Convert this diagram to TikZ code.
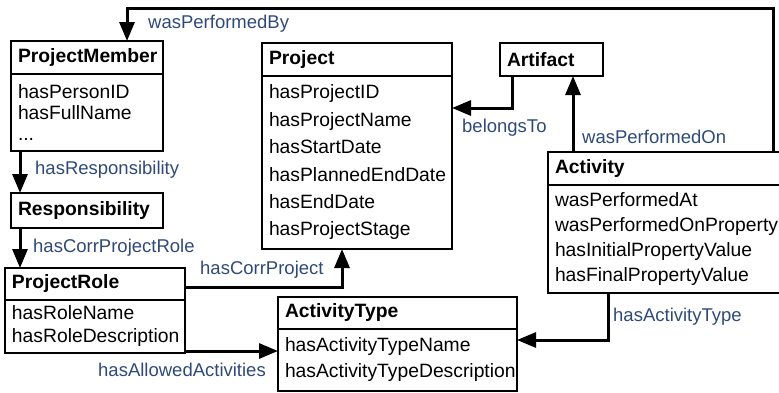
\documentclass[tikz,border=0pt]{standalone}
\usepackage{fontspec}
\setmainfont{Liberation Sans}
\usetikzlibrary{arrows.meta}
\definecolor{relblue}{HTML}{2F4A78}

\tikzset{
  head/.style={draw, line width=2pt, outer sep=0pt, anchor=north west,
    inner xsep=7pt, inner ysep=0pt, minimum height=33pt, text width=#1,
    align=left, font=\bfseries\fontsize{19.3}{23}\selectfont},
  attrs/.style={draw, line width=2pt, outer sep=0pt, anchor=north west,
    inner xsep=7pt, inner ysep=0pt, text width=#1,
    align=left, font=\fontsize{19.3}{25}\selectfont},
  rel/.style={anchor=west, inner sep=0pt, text=relblue,
    font=\fontsize{18.5}{22}\selectfont},
  link/.style={line width=3pt, -{Triangle[length=19pt,width=15pt]}},
}

\begin{document}
\begin{tikzpicture}[x=1pt, y=-1pt]
    \clip (0,0) rectangle (779,392);

    % classes
    \node[head=138pt] (pmhead) at (11,41) {ProjectMember};
    \node[attrs=138pt, minimum height=77pt] (pmbody) at (pmhead.south west)
        {hasPersonID\\[-4pt] hasFullName\\[-4pt] ...};

    \node[head=176pt] (projhead) at (262,43) {Project};
    \node[attrs=176pt, minimum height=173pt, font=\fontsize{19.3}{27.4}\selectfont] (projbody) at (projhead.south west)
        {hasProjectID\\ hasProjectName\\ hasStartDate\\ hasPlannedEndDate\\ hasEndDate\\ hasProjectStage};

    \node[head=89pt] (arthead) at (500,43) {Artifact};

    \node[head=228pt] (acthead) at (548,152) {Activity};
    \node[attrs=228pt, minimum height=108pt] (actbody) at (acthead.south west)
        {wasPerformedAt\\ wasPerformedOnProperty\\ hasInitialPropertyValue\\ hasFinalPropertyValue};

    \node[head=138pt, minimum height=35pt] (resp) at (11,193) {Responsibility};

    \node[head=166pt, minimum height=32pt] (prhead) at (5,268) {ProjectRole};
    \node[attrs=166pt, minimum height=53pt, font=\fontsize{19.3}{23}\selectfont] (prbody) at (prhead.south west)
        {hasRoleName\\ hasRoleDescription};

    \node[head=225pt, minimum height=32pt] (athead) at (278,297) {ActivityType};
    \node[attrs=225pt, minimum height=62pt, font=\fontsize{19.3}{26}\selectfont] (atbody) at (athead.south west)
        {hasActivityTypeName\\ hasActivityTypeDescription};

    % relations
    \coordinate (onfoot) at ([xshift=25pt]acthead.north west);
    \coordinate (allowfrom) at ([yshift=2pt]prbody.south east);

    \draw[link] ([xshift=225pt]acthead.north west) -- ++(0,-144) -| ([xshift=116pt]pmhead.north west);
    \draw[link] ([xshift=12pt]arthead.south west) |- ([yshift=-32pt]projbody.north east);
    \draw[link] (onfoot) -- (onfoot |- arthead.south);
    \draw[link] ([xshift=9pt]pmbody.south west) -- ([xshift=9pt]resp.north west);
    \draw[link] ([xshift=9pt]resp.south west) -- ([xshift=15pt]prhead.north west);
    \draw[link] ([yshift=-3pt]prhead.east) -| ([xshift=80pt]projbody.south west);
    \draw[link] (allowfrom) -- (allowfrom -| atbody.west);
    \draw[link] ([xshift=60pt]actbody.south west) |- ([yshift=-11pt]athead.south east);

    % relation names
    \node[rel] (lblby) at (148,24) {wasPerformedBy};
    \node[rel] (lblresp) at (35,170) {hasResponsibility};
    \node[rel] (lblrole) at (33,248) {hasCorrProjectRole};
    \node[rel] (lblproj) at (200,270) {hasCorrProject};
    \node[rel] (lblallow) at (98,370) {hasAllowedActivities};
    \node[rel] (lblbel) at (462,128) {belongsTo};
    \node[rel] (lblon) at (582,137) {wasPerformedOn};
    \node[rel] (lbltype) at (613,317) {hasActivityType};
\end{tikzpicture}
\end{document}
